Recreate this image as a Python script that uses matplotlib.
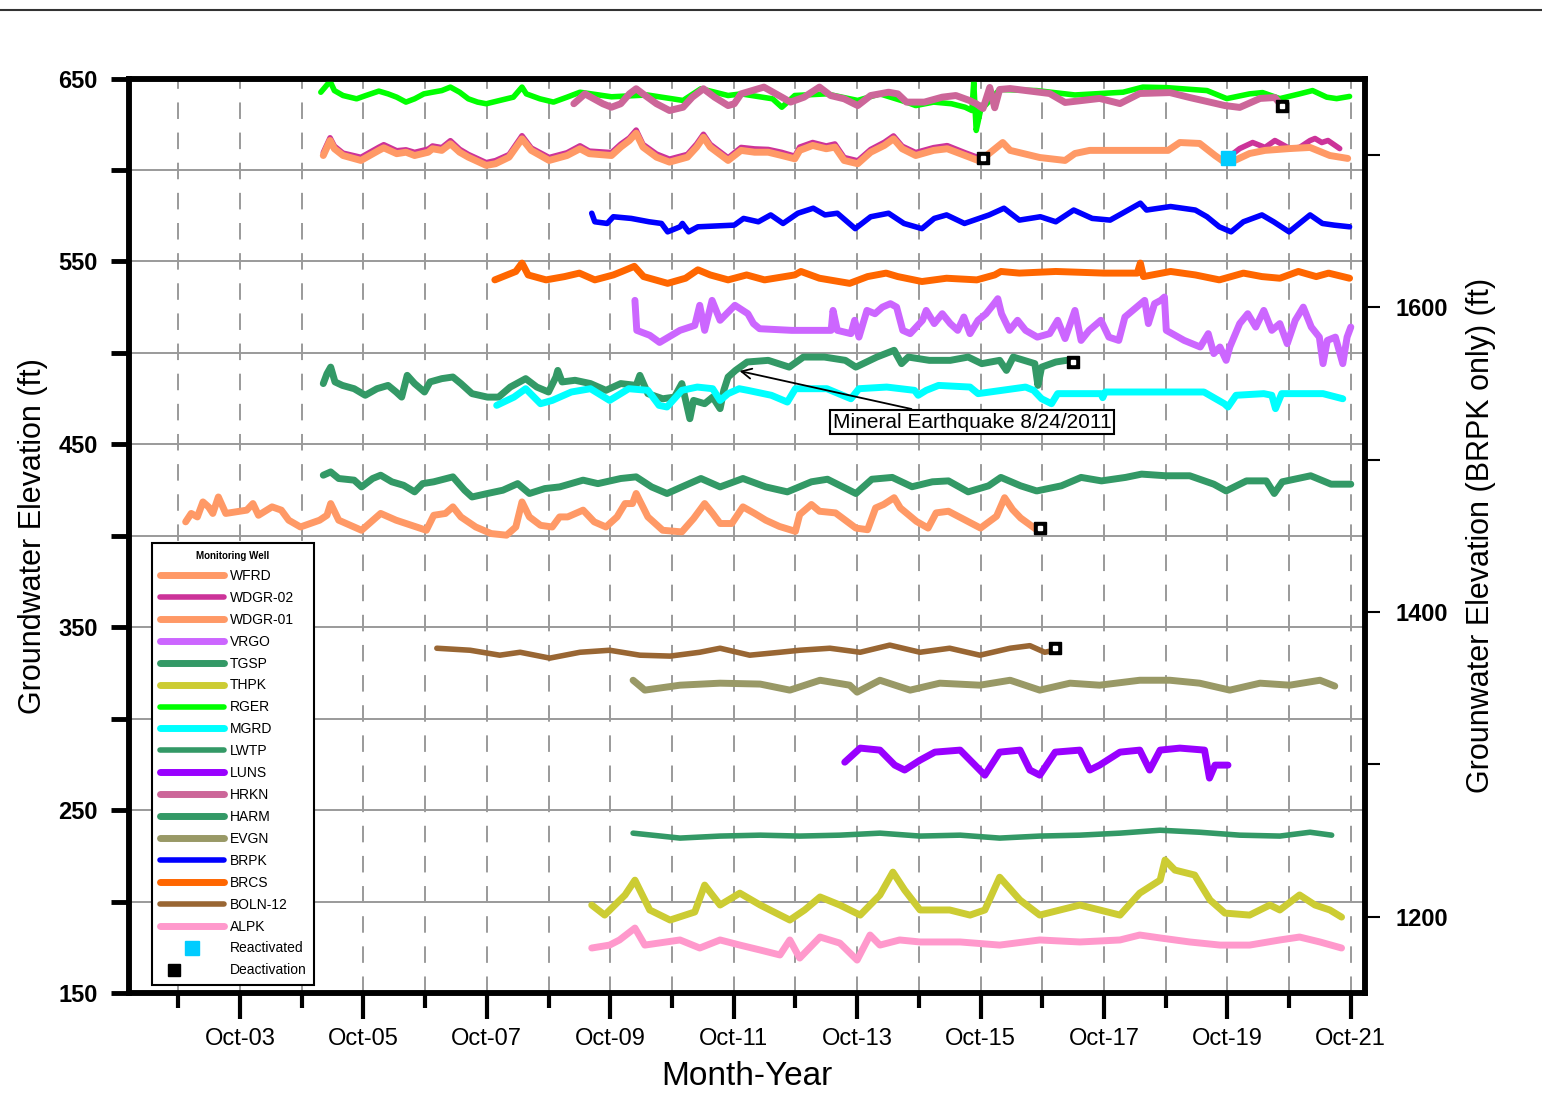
import matplotlib.pyplot as plt
from matplotlib.lines import Line2D
from matplotlib.legend_handler import HandlerTuple

plt.rcParams['font.family'] = ['Liberation Sans', 'DejaVu Sans']

# ---- data: decimal year, elevation (ft) ----
wfrd_yr = [2002.87, 2002.96, 2003.06, 2003.15, 2003.24, 2003.31, 2003.40, 2003.52, 2003.86, 2003.96,
           2004.05, 2004.27, 2004.42, 2004.54, 2004.73, 2005.04, 2005.16, 2005.22, 2005.35, 2005.72,
           2006.03, 2006.28, 2006.77, 2006.89, 2007.08, 2007.20, 2007.33, 2007.57, 2007.82, 2008.07,
           2008.22, 2008.32, 2008.44, 2008.62, 2008.81, 2008.93, 2009.06, 2009.31, 2009.49, 2009.68,
           2009.86, 2009.99, 2010.11, 2010.17, 2010.36, 2010.60, 2010.91, 2011.10, 2011.28, 2011.41,
           2011.53, 2011.72, 2011.90, 2012.09, 2012.27, 2012.49, 2012.75, 2012.82, 2013.01, 2013.14,
           2013.40, 2013.73, 2013.92, 2014.05, 2014.18, 2014.35, 2014.45, 2014.71, 2014.90, 2015.03,
           2015.23, 2015.49, 2015.75, 2016.01, 2016.14, 2016.27, 2016.40, 2016.66]
wfrd_ft = [407.6, 412.2, 410.3, 418.5, 415.8, 412.2, 421.2, 412.2, 414.0, 417.6,
           411.2, 415.8, 414.0, 408.5, 404.8, 408.5, 411.2, 417.6, 408.5, 403.0,
           412.2, 408.5, 403.0, 411.2, 412.2, 415.8, 410.3, 404.8, 401.2, 400.3,
           404.8, 418.5, 410.3, 405.7, 404.8, 410.3, 410.3, 414.0, 407.6, 404.8,
           410.3, 417.6, 417.6, 423.1, 410.3, 403.0, 402.1, 409.4, 417.6, 412.2,
           406.7, 406.7, 415.8, 412.2, 408.5, 405.1, 402.4, 411.6, 417.1, 413.4,
           412.5, 404.2, 403.3, 415.2, 417.1, 420.8, 415.2, 407.9, 404.2, 412.5,
           413.4, 408.8, 404.2, 410.7, 420.8, 414.3, 409.7, 403.3]

wdgr01_yr = [2005.10, 2005.21, 2005.28, 2005.42, 2005.71, 2006.00, 2006.08, 2006.29, 2006.44, 2006.58,
             2006.80, 2006.87, 2007.02, 2007.16, 2007.31, 2007.45, 2007.74, 2007.89, 2008.11, 2008.32,
             2008.47, 2008.76, 2009.05, 2009.26, 2009.41, 2009.77, 2009.92, 2010.06, 2010.17, 2010.28,
             2010.50, 2010.71, 2011.00, 2011.15, 2011.26, 2011.37, 2011.66, 2011.87, 2012.09, 2012.31,
             2012.53, 2012.74, 2012.82, 2013.03, 2013.25, 2013.39, 2013.54, 2013.76, 2013.97, 2014.19,
             2014.34, 2014.48, 2014.70, 2014.99, 2015.21, 2015.50, 2015.71, 2015.79, 2016.11, 2016.23,
             2016.71, 2017.12, 2017.28, 2017.52, 2018.79, 2018.98, 2019.30, 2019.55, 2019.71, 2019.87,
             2020.11, 2020.36, 2020.76, 2021.09, 2021.41, 2021.70]
wdgr01_ft = [607.9, 616.1, 611.6, 607.9, 605.2, 610.7, 612.1, 608.9, 609.7, 607.9,
             609.7, 611.6, 610.7, 614.3, 609.7, 607.0, 602.5, 603.4, 607.0, 617.0,
             610.7, 605.2, 607.9, 611.6, 608.9, 607.9, 612.5, 616.1, 620.1, 612.5,
             607.0, 604.3, 607.0, 612.5, 617.9, 612.5, 605.2, 610.7, 609.7, 609.7,
             607.9, 606.1, 610.7, 613.4, 611.6, 612.5, 605.2, 603.4, 609.7, 613.4,
             617.0, 611.6, 607.9, 610.7, 611.6, 607.9, 605.2, 606.3, 615.0, 610.7,
             606.8, 605.2, 609.0, 610.7, 610.7, 615.0, 614.5, 607.9, 604.1, 605.2,
             609.0, 610.7, 611.7, 612.3, 607.9, 606.3]

# WDGR-02 before deactivation and after reactivation
wdgr02a_yr = [2005.10, 2005.21, 2005.28, 2005.42, 2005.71, 2006.00, 2006.08, 2006.29, 2006.44, 2006.58,
              2006.80, 2006.87, 2007.02, 2007.16, 2007.31, 2007.45, 2007.74, 2007.89, 2008.11, 2008.32,
              2008.47, 2008.76, 2009.05, 2009.26, 2009.41, 2009.77, 2009.92, 2010.06, 2010.17, 2010.28,
              2010.50, 2010.71, 2011.00, 2011.15, 2011.26, 2011.37, 2011.66, 2011.87, 2012.09, 2012.31,
              2012.53, 2012.74, 2012.82, 2013.03, 2013.25, 2013.39, 2013.54, 2013.76, 2013.97, 2014.19,
              2014.34, 2014.48, 2014.70, 2014.99, 2015.21, 2015.50, 2015.71, 2015.79]
wdgr02a_ft = [609.5, 617.6, 613.0, 609.2, 606.9, 612.4, 613.8, 610.5, 611.0, 609.6,
              611.4, 613.1, 612.2, 616.0, 611.3, 608.5, 604.0, 605.1, 608.4, 618.7,
              612.0, 606.8, 609.4, 613.2, 610.3, 609.5, 614.1, 617.5, 621.8, 614.0,
              608.7, 605.9, 608.5, 614.2, 619.5, 614.0, 606.6, 612.3, 611.5, 611.2,
              609.6, 607.5, 612.5, 615.0, 613.1, 614.2, 606.8, 605.0, 611.2, 615.1,
              618.6, 613.0, 609.5, 612.2, 613.3, 609.4, 606.8, 605.5]
wdgr02b_yr = [2019.76, 2019.95, 2020.16, 2020.36, 2020.52, 2020.76, 2020.92, 2021.09, 2021.17, 2021.28,
              2021.38, 2021.57]
wdgr02b_ft = [606.8, 611.7, 615.0, 612.3, 616.1, 611.7, 612.3, 616.1, 617.2, 615.0,
              616.1, 611.7]

vrgo_yr = [2010.15, 2010.18, 2010.39, 2010.55, 2010.88, 2011.12, 2011.20, 2011.28, 2011.40, 2011.53,
           2011.77, 2011.98, 2012.07, 2012.17, 2012.69, 2013.33, 2013.36, 2013.43, 2013.65, 2013.71,
           2013.78, 2013.91, 2014.04, 2014.16, 2014.29, 2014.39, 2014.49, 2014.61, 2014.81, 2014.87,
           2015.00, 2015.13, 2015.26, 2015.38, 2015.48, 2015.58, 2015.71, 2015.84, 2015.97, 2016.03,
           2016.09, 2016.22, 2016.35, 2016.48, 2016.67, 2016.87, 2017.00, 2017.12, 2017.28, 2017.38,
           2017.51, 2017.70, 2017.83, 2017.99, 2018.09, 2018.28, 2018.41, 2018.47, 2018.57, 2018.67,
           2018.73, 2018.76, 2019.05, 2019.31, 2019.44, 2019.53, 2019.63, 2019.73, 2019.79, 2019.95,
           2020.08, 2020.21, 2020.34, 2020.47, 2020.60, 2020.72, 2020.85, 2020.98, 2021.11, 2021.24,
           2021.30, 2021.37, 2021.50, 2021.62, 2021.69, 2021.75]
vrgo_ft = [528.7, 512.3, 509.6, 505.7, 512.3, 515.0, 526.0, 512.3, 528.7, 517.8,
           526.0, 521.4, 516.0, 513.2, 512.3, 512.3, 523.2, 512.3, 510.5, 517.8,
           508.6, 523.2, 521.4, 525.0, 526.9, 525.0, 512.3, 510.5, 517.8, 523.2,
           516.0, 521.4, 516.0, 512.3, 519.6, 510.5, 517.8, 521.4, 526.9, 529.6,
           521.4, 512.3, 517.8, 512.3, 508.6, 510.5, 517.8, 507.8, 523.2, 506.8,
           512.3, 517.8, 508.6, 506.8, 519.6, 525.0, 528.7, 516.0, 526.9, 528.7,
           530.5, 512.3, 506.8, 503.2, 510.5, 499.6, 503.2, 495.9, 503.2, 516.0,
           521.4, 514.1, 523.2, 512.3, 516.0, 505.0, 517.8, 525.0, 514.1, 508.6,
           494.1, 506.8, 508.6, 494.1, 508.6, 514.1]

tgsp_yr = [2005.10, 2005.16, 2005.22, 2005.29, 2005.41, 2005.60, 2005.78, 2005.97, 2006.15, 2006.28,
           2006.37, 2006.46, 2006.58, 2006.74, 2006.83, 2007.02, 2007.20, 2007.33, 2007.51, 2007.76,
           2007.94, 2008.13, 2008.38, 2008.56, 2008.75, 2008.87, 2008.90, 2008.97, 2009.18, 2009.43,
           2009.68, 2009.92, 2010.17, 2010.23, 2010.36, 2010.60, 2010.79, 2010.91, 2011.04, 2011.10,
           2011.28, 2011.41, 2011.53, 2011.59, 2011.66, 2011.78, 2011.97, 2012.31, 2012.65, 2012.88,
           2013.22, 2013.56, 2013.73, 2014.07, 2014.35, 2014.47, 2014.58, 2014.92, 2015.26, 2015.55,
           2015.77, 2016.06, 2016.17, 2016.28, 2016.63, 2016.68, 2016.74, 2016.97, 2017.14]
tgsp_ft = [483.2, 488.6, 492.2, 484.1, 482.2, 480.4, 476.8, 480.4, 482.2, 478.6,
           475.8, 487.7, 483.2, 478.6, 484.1, 485.9, 486.8, 483.2, 477.7, 475.8,
           475.8, 481.3, 485.9, 481.3, 478.6, 486.8, 490.4, 484.1, 485.0, 483.2,
           479.5, 483.2, 482.2, 487.7, 477.7, 474.9, 475.8, 483.2, 464.0, 474.0,
           472.2, 475.8, 469.5, 479.5, 486.8, 490.4, 495.0, 495.9, 492.2, 497.7,
           497.7, 495.9, 492.2, 497.7, 501.4, 494.1, 497.7, 495.9, 495.9, 497.7,
           494.1, 495.9, 490.4, 497.7, 494.1, 482.2, 492.2, 495.0, 495.9]

thpk_yr = [2009.45, 2009.66, 2009.99, 2010.15, 2010.39, 2010.72, 2011.12, 2011.28, 2011.53, 2011.85,
           2012.18, 2012.66, 2012.90, 2013.15, 2013.47, 2013.80, 2014.12, 2014.33, 2014.52, 2014.77,
           2015.25, 2015.58, 2015.82, 2016.06, 2016.39, 2016.71, 2017.04, 2017.36, 2017.68, 2018.01,
           2018.33, 2018.66, 2018.74, 2018.90, 2019.22, 2019.47, 2019.71, 2020.11, 2020.44, 2020.60,
           2020.92, 2021.17, 2021.41, 2021.60]
thpk_ft = [198.1, 192.6, 203.6, 211.7, 195.4, 189.9, 194.3, 209.0, 198.1, 204.6,
           198.1, 189.9, 195.4, 202.5, 198.1, 192.6, 203.6, 216.1, 206.3, 195.4,
           195.4, 192.6, 195.4, 213.3, 200.8, 192.6, 195.4, 198.1, 195.4, 192.6,
           204.6, 211.7, 222.7, 217.2, 214.5, 200.8, 193.7, 192.6, 198.1, 195.4,
           203.6, 198.1, 195.4, 191.5]

rger_yr = [2005.06, 2005.21, 2005.28, 2005.42, 2005.64, 2005.79, 2006.00, 2006.15, 2006.29, 2006.44,
           2006.58, 2006.73, 2006.87, 2007.02, 2007.16, 2007.31, 2007.45, 2007.60, 2007.74, 2007.96,
           2008.18, 2008.32, 2008.39, 2008.61, 2008.83, 2009.05, 2009.26, 2009.77, 2010.35, 2010.93,
           2011.22, 2011.66, 2011.87, 2012.38, 2012.53, 2012.74, 2013.25, 2013.76, 2014.12, 2014.55,
           2014.70, 2014.99, 2015.28, 2015.50, 2015.61, 2015.64, 2015.68, 2015.75, 2016.06, 2016.66,
           2017.28, 2018.06, 2018.38, 2018.77, 2019.42, 2019.74, 2020.11, 2020.32, 2020.60, 2020.92,
           2021.13, 2021.36, 2021.52, 2021.73]
rger_ft = [642.5, 648.5, 643.4, 640.7, 638.9, 640.7, 643.1, 641.6, 639.8, 637.1,
           638.9, 641.6, 642.5, 643.4, 645.3, 642.5, 638.9, 637.1, 636.2, 638.0,
           639.8, 645.3, 641.6, 638.9, 637.1, 639.8, 642.5, 640.0, 641.0, 638.0,
           644.4, 640.7, 641.6, 638.9, 634.3, 640.7, 641.6, 638.0, 641.6, 637.1,
           635.2, 637.1, 636.2, 634.3, 632.5, 648.0, 621.6, 632.5, 644.0, 643.4,
           641.0, 642.5, 645.3, 645.0, 643.4, 639.0, 641.6, 642.3, 639.0, 641.6,
           643.4, 639.8, 639.0, 640.2]

mgrd_yr = [2007.91, 2008.19, 2008.38, 2008.62, 2008.81, 2009.12, 2009.43, 2009.74, 2010.05, 2010.36,
           2010.54, 2010.67, 2010.91, 2011.16, 2011.41, 2011.53, 2011.66, 2011.84, 2011.98, 2012.36,
           2012.62, 2012.75, 2013.26, 2013.65, 2013.78, 2014.23, 2014.68, 2014.74, 2014.87, 2015.07,
           2015.58, 2015.71, 2016.48, 2016.61, 2016.74, 2016.90, 2017.00, 2017.70, 2017.73, 2017.77,
           2018.73, 2019.37, 2019.70, 2019.76, 2019.89, 2020.34, 2020.47, 2020.53, 2020.63, 2021.30,
           2021.62]
mgrd_ft = [471.3, 475.8, 480.4, 472.2, 474.0, 478.6, 480.4, 474.0, 480.4, 479.5,
           471.3, 470.4, 479.5, 481.3, 480.4, 474.0, 477.7, 480.4, 479.5, 476.8,
           473.1, 480.4, 480.4, 474.9, 480.4, 481.3, 479.5, 476.8, 479.5, 482.2,
           481.3, 477.7, 481.3, 479.5, 474.9, 472.2, 477.7, 477.7, 475.5, 478.6,
           478.6, 478.6, 472.2, 470.4, 476.8, 477.7, 476.8, 469.5, 477.7, 477.7,
           474.9]

lwtp_yr = [2010.12, 2010.88, 2011.53, 2012.18, 2012.82, 2013.47, 2014.12, 2014.77, 2015.42, 2016.06,
           2016.71, 2017.36, 2018.01, 2018.66, 2019.30, 2019.95, 2020.60, 2021.09, 2021.44]
lwtp_ft = [237.4, 234.7, 235.8, 236.3, 235.8, 236.3, 237.4, 235.8, 236.3, 234.7,
           235.8, 236.3, 237.4, 239.0, 237.9, 236.3, 235.8, 237.9, 236.3]

luns_yr = [2013.55, 2013.80, 2014.12, 2014.36, 2014.52, 2014.77, 2015.01, 2015.42, 2015.66, 2015.82,
           2016.06, 2016.39, 2016.55, 2016.71, 2016.96, 2017.36, 2017.52, 2017.68, 2018.01, 2018.33,
           2018.49, 2018.66, 2018.98, 2019.38, 2019.46, 2019.55, 2019.76]
luns_ft = [276.2, 283.9, 282.8, 274.6, 271.9, 277.3, 281.7, 282.8, 274.6, 269.1,
           281.7, 282.8, 271.9, 269.1, 281.7, 282.8, 271.9, 274.6, 281.7, 282.8,
           271.9, 282.8, 283.9, 282.8, 267.5, 274.6, 274.6]

hrkn_yr = [2009.16, 2009.34, 2009.63, 2009.77, 2009.92, 2010.06, 2010.17, 2010.28, 2010.50, 2010.71,
           2010.93, 2011.08, 2011.26, 2011.44, 2011.66, 2011.76, 2011.87, 2012.24, 2012.53, 2012.67,
           2012.89, 2013.14, 2013.32, 2013.54, 2013.76, 2013.97, 2014.26, 2014.41, 2014.55, 2014.84,
           2015.13, 2015.35, 2015.57, 2015.68, 2015.79, 2015.90, 2015.98, 2016.06, 2016.23, 2016.87,
           2017.12, 2017.68, 2018.01, 2018.33, 2018.82, 2019.14, 2019.71, 2019.95, 2020.28, 2020.52,
           2020.63]
hrkn_ft = [636.2, 641.6, 636.2, 634.3, 636.2, 641.6, 644.4, 641.6, 636.2, 632.5,
           634.3, 639.8, 644.4, 639.8, 635.2, 636.2, 641.6, 645.3, 639.8, 637.1,
           639.8, 645.3, 640.7, 638.9, 635.2, 640.7, 642.5, 641.6, 637.1, 637.1,
           639.8, 640.7, 638.0, 636.2, 633.6, 645.1, 634.0, 644.0, 644.5, 641.8,
           636.9, 639.1, 636.3, 641.8, 642.3, 639.6, 635.2, 634.2, 639.1, 639.6,
           635.2]

harm_yr = [2005.10, 2005.22, 2005.35, 2005.60, 2005.72, 2005.90, 2006.03, 2006.21, 2006.40, 2006.58,
           2006.71, 2006.89, 2007.20, 2007.39, 2007.51, 2007.76, 2008.01, 2008.25, 2008.44, 2008.69,
           2008.93, 2009.31, 2009.55, 2009.92, 2010.17, 2010.42, 2010.67, 2010.91, 2011.22, 2011.53,
           2011.90, 2012.27, 2012.62, 2013.01, 2013.27, 2013.73, 2013.99, 2014.32, 2014.64, 2014.97,
           2015.23, 2015.55, 2015.88, 2016.08, 2016.40, 2016.66, 2017.06, 2017.38, 2017.71, 2018.10,
           2018.36, 2018.75, 2019.14, 2019.53, 2019.73, 2020.06, 2020.38, 2020.51, 2020.64, 2021.10,
           2021.43, 2021.75]
harm_ft = [433.1, 434.9, 431.3, 430.4, 426.7, 431.3, 433.1, 429.5, 427.6, 424.0,
           428.5, 429.5, 432.2, 424.9, 421.2, 423.1, 424.9, 428.5, 423.1, 425.8,
           426.7, 430.4, 428.5, 431.3, 432.2, 426.7, 423.1, 426.7, 431.3, 426.7,
           431.3, 426.7, 424.0, 429.5, 430.9, 423.1, 430.9, 431.9, 426.8, 429.5,
           430.0, 424.0, 427.3, 431.9, 427.3, 424.5, 427.3, 431.9, 430.0, 431.9,
           433.7, 432.8, 432.8, 428.2, 424.5, 430.0, 430.0, 423.1, 429.5, 432.8,
           428.2, 428.2]

evgn_yr = [2010.12, 2010.31, 2010.88, 2011.53, 2012.18, 2012.66, 2013.15, 2013.63, 2013.75, 2014.12,
           2014.61, 2015.09, 2015.74, 2016.23, 2016.71, 2017.20, 2017.68, 2018.33, 2018.82, 2019.30,
           2019.79, 2020.28, 2020.76, 2021.25, 2021.49]
evgn_ft = [321.0, 315.6, 318.3, 319.4, 318.9, 315.6, 321.0, 318.3, 314.5, 321.0,
           315.6, 319.4, 318.3, 321.0, 315.6, 319.4, 318.3, 321.0, 321.0, 319.4,
           315.6, 319.4, 318.3, 321.0, 317.8]

# BRPK is read on the right-hand axis
brpk_yr = [2009.45, 2009.50, 2009.70, 2009.80, 2010.09, 2010.38, 2010.58, 2010.68, 2010.88, 2010.92,
           2011.02, 2011.17, 2011.76, 2011.91, 2012.15, 2012.35, 2012.55, 2012.79, 2013.04, 2013.23,
           2013.43, 2013.72, 2013.97, 2014.26, 2014.51, 2014.80, 2015.00, 2015.20, 2015.49, 2015.89,
           2016.13, 2016.38, 2016.72, 2016.97, 2017.26, 2017.56, 2017.85, 2018.05, 2018.34, 2018.44,
           2018.83, 2019.23, 2019.42, 2019.62, 2019.81, 2020.01, 2020.31, 2020.50, 2020.75, 2021.09,
           2021.29, 2021.48, 2021.73]
brpk_ft = [1661.6, 1656.0, 1654.9, 1659.3, 1658.2, 1656.0, 1654.9, 1649.4, 1652.7, 1654.9,
           1649.4, 1652.7, 1653.8, 1658.2, 1656.0, 1660.5, 1654.9, 1661.6, 1664.9, 1660.5,
           1661.6, 1651.5, 1659.3, 1661.6, 1654.9, 1651.5, 1658.2, 1660.5, 1654.9, 1660.5,
           1664.9, 1657.1, 1659.3, 1656.0, 1663.7, 1658.2, 1657.1, 1661.6, 1668.2, 1663.7,
           1666.0, 1663.7, 1659.3, 1652.7, 1649.4, 1656.0, 1660.5, 1656.0, 1649.4, 1660.5,
           1654.9, 1653.8, 1652.7]

brcs_yr = [2007.88, 2008.22, 2008.32, 2008.42, 2008.71, 2009.01, 2009.25, 2009.50, 2009.80, 2009.94,
           2010.14, 2010.29, 2010.68, 2010.97, 2011.17, 2011.37, 2011.66, 2011.96, 2012.25, 2012.74,
           2012.84, 2013.14, 2013.63, 2013.92, 2014.22, 2014.41, 2014.80, 2015.20, 2015.69, 2015.98,
           2016.08, 2016.38, 2016.97, 2017.75, 2018.29, 2018.34, 2018.39, 2018.83, 2019.23, 2019.62,
           2020.01, 2020.31, 2020.60, 2020.90, 2021.19, 2021.39, 2021.73]
brcs_ft = [539.9, 544.5, 549.1, 542.6, 539.9, 541.7, 543.6, 539.9, 542.6, 544.5,
           547.3, 541.7, 538.0, 540.8, 545.4, 542.6, 539.9, 542.6, 539.9, 542.6,
           544.5, 540.8, 538.0, 541.7, 543.6, 541.7, 539.0, 540.8, 539.9, 542.6,
           544.5, 543.6, 544.5, 543.6, 543.6, 549.1, 541.7, 544.5, 542.6, 539.9,
           543.6, 541.7, 540.8, 544.5, 541.7, 543.6, 540.8]

boln_yr = [2006.94, 2007.48, 2007.96, 2008.29, 2008.77, 2009.26, 2009.74, 2010.23, 2010.72, 2011.20,
           2011.53, 2012.01, 2012.50, 2012.82, 2013.31, 2013.80, 2014.28, 2014.77, 2015.25, 2015.74,
           2016.23, 2016.55, 2016.79, 2016.95]
boln_ft = [338.5, 337.4, 334.7, 336.3, 333.1, 336.3, 337.4, 334.7, 334.2, 336.3,
           338.5, 334.7, 336.3, 337.4, 338.5, 336.3, 340.2, 336.3, 338.5, 334.7,
           338.5, 339.9, 336.3, 337.4]

alpk_yr = [2009.45, 2009.74, 2009.90, 2010.15, 2010.31, 2010.88, 2011.20, 2011.53, 2011.85, 2012.18,
           2012.50, 2012.66, 2012.82, 2013.15, 2013.47, 2013.75, 2013.96, 2014.12, 2014.44, 2014.77,
           2015.42, 2016.06, 2016.71, 2017.36, 2018.01, 2018.33, 2018.66, 2019.14, 2019.63, 2020.11,
           2020.60, 2020.92, 2021.25, 2021.60]
alpk_ft = [174.6, 176.2, 179.0, 185.5, 176.2, 179.0, 174.6, 179.0, 176.2, 173.5,
           170.8, 179.0, 169.1, 180.6, 177.3, 168.0, 181.7, 176.2, 179.0, 177.9,
           177.9, 176.2, 179.0, 177.9, 179.0, 181.7, 180.1, 177.9, 176.2, 176.2,
           179.0, 180.6, 177.9, 174.6]

react_yr = [2019.76]
react_ft = [606.8]
deact_yr = [2015.79, 2020.63, 2017.25, 2016.71, 2016.95]
deact_ft = [606.8, 635.2, 494.8, 404.1, 338.5]

tick_labels = ['Oct-03', 'Oct-05', 'Oct-07', 'Oct-09', 'Oct-11',
               'Oct-13', 'Oct-15', 'Oct-17', 'Oct-19', 'Oct-21']

# ---- figure ----
fig = plt.figure(figsize=(15.42, 10.94), dpi=100)
ax = fig.add_axes([0.08398, 0.09232, 0.80123, 0.83592])
ax2 = ax.twinx()

series = [
    ('WFRD', wfrd_yr, wfrd_ft, '#FF9966', 5),
    ('WDGR-02', wdgr02a_yr, wdgr02a_ft, '#CC3399', 4),
    ('WDGR-01', wdgr01_yr, wdgr01_ft, '#FF9966', 5),
    ('VRGO', vrgo_yr, vrgo_ft, '#CC66FF', 5),
    ('TGSP', tgsp_yr, tgsp_ft, '#339966', 5),
    ('THPK', thpk_yr, thpk_ft, '#CCCC33', 5),
    ('RGER', rger_yr, rger_ft, '#00FF00', 4),
    ('MGRD', mgrd_yr, mgrd_ft, '#00FFFF', 5),
    ('LWTP', lwtp_yr, lwtp_ft, '#339966', 4),
    ('LUNS', luns_yr, luns_ft, '#9900FF', 5),
    ('HRKN', hrkn_yr, hrkn_ft, '#CC6699', 5),
    ('HARM', harm_yr, harm_ft, '#339966', 5),
    ('EVGN', evgn_yr, evgn_ft, '#999966', 5),
    ('BRPK', brpk_yr, brpk_ft, '#0000FF', 4),
    ('BRCS', brcs_yr, brcs_ft, '#FF6600', 5),
    ('BOLN-12', boln_yr, boln_ft, '#996633', 4),
    ('ALPK', alpk_yr, alpk_ft, '#FF99CC', 5),
]

handles = []
labels = []
for name, xs, ys, col, lw in series:
    target = ax2 if name == 'BRPK' else ax
    ln, = target.plot(xs, ys, color=col, lw=lw, solid_capstyle='round',
                      solid_joinstyle='round', zorder=3)
    handles.append(ln)
    labels.append(name)
    if name == 'WDGR-02':
        ax.plot(wdgr02b_yr, wdgr02b_ft, color=col, lw=lw, solid_capstyle='round',
                solid_joinstyle='round', zorder=3)

# markers
r_mk, = ax.plot(react_yr, react_ft, 's', color='#00CCFF', ms=10, zorder=5)
d_mk, = ax.plot(deact_yr, deact_ft, 's', color='black', ms=9, zorder=5)
d_in, = ax.plot(deact_yr, deact_ft, 's', color='white', ms=2.5, zorder=6)

# annotation
ax.annotate('Mineral Earthquake 8/24/2011', xy=(2011.80, 490.4), xytext=(2015.61, 462.0),
            fontsize=15, ha='center', va='center', zorder=7,
            bbox=dict(boxstyle='square,pad=0.12', fc='white', ec='black', lw=1.5),
            arrowprops=dict(arrowstyle='->', color='black', lw=1.3, mutation_scale=18))

# axes limits / ticks
ax.set_xlim(2001.96, 2021.98)
ax.set_ylim(150, 650)
ax2.set_ylim(1150, 1750)

major_x = [2003.75 + 2 * i for i in range(len(tick_labels))]
minor_x = [2002.75 + 2 * i for i in range(len(tick_labels))]
ax.set_xticks(major_x, tick_labels, fontsize=17)
ax.set_xticks(minor_x, minor=True)
ax.tick_params(axis='x', which='major', direction='out', length=19, width=3, pad=6)
ax.tick_params(axis='x', which='minor', direction='out', length=11, width=3)

left_ticks = list(range(150, 651, 50))
left_lbls = [str(v) if (v - 150) % 100 == 0 else '' for v in left_ticks]
ax.set_yticks(left_ticks, left_lbls, fontsize=17, fontweight='bold')
ax.tick_params(axis='y', which='major', direction='out', length=13, width=3.5, pad=10)

right_ticks = list(range(1200, 1701, 100))
right_lbls = [str(v) if v % 200 == 0 else '' for v in right_ticks]
ax2.set_yticks(right_ticks, right_lbls, fontsize=17, fontweight='bold')
ax2.tick_params(axis='y', direction='out', length=11, width=1.5, pad=11)

ax.grid(axis='y', which='major', color='#9a9a9a', lw=1.4, ls='-', zorder=1)
ax.grid(axis='x', which='both', color='#9a9a9a', lw=1.4, ls=(0, (8.5, 7.0)), zorder=1)
ax.set_axisbelow(True)

for a in (ax, ax2):
    for sp in a.spines.values():
        sp.set_linewidth(4)
        sp.set_color('black')

ax.set_xlabel('Month-Year', fontsize=24)
ax.xaxis.set_label_coords(0.5, -0.074)
ax.set_ylabel('Groundwater Elevation (ft)', fontsize=22)
ax.yaxis.set_label_coords(-0.066, 0.5)
ax2.set_ylabel('Grounwater Elevation (BRPK only) (ft)', fontsize=22)
ax2.yaxis.set_label_coords(1.082, 0.5)

# legend
handles += [r_mk, (d_mk, d_in)]
labels += ['Reactivated', 'Deactivation']
leg = ax2.legend(handles, labels, loc='lower left', bbox_to_anchor=(0.0182, 0.0087),
                 bbox_transform=ax.transAxes, borderaxespad=0, fontsize=10,
                 title='Monitoring Well', title_fontproperties={'size': 7, 'weight': 'bold'},
                 handlelength=4.6, labelspacing=0.57, handletextpad=0.45, borderpad=0.55,
                 fancybox=False, framealpha=1, edgecolor='black',
                 handler_map={tuple: HandlerTuple(ndivide=None)})
leg.get_frame().set_linewidth(1.5)
leg.set_zorder(10)

# page rule across the top
fig.add_artist(Line2D([0, 1], [0.9909, 0.9909], transform=fig.transFigure,
                      color='#333333', lw=1.5))

fig.savefig('out.png', dpi=100)
